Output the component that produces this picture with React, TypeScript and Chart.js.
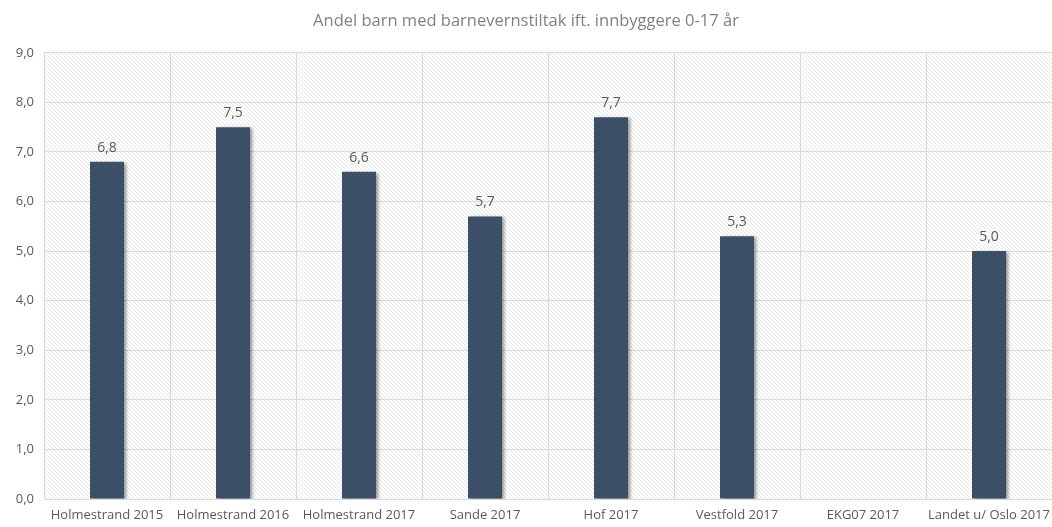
import React, { useEffect, useRef } from "react";
import { Chart, registerables } from "chart.js";

Chart.register(...registerables);

const categories = [
  "Holmestrand 2015",
  "Holmestrand 2016",
  "Holmestrand 2017",
  "Sande 2017",
  "Hof 2017",
  "Vestfold 2017",
  "EKG07 2017",
  "Landet u/ Oslo 2017",
];
const values: (number | null)[] = [6.8, 7.5, 6.6, 5.7, 7.7, 5.3, null, 5.0];
const titleText = "Andel barn med barnevernstiltak ift. innbyggere 0-17 år";

const fmt = (v: number) => v.toFixed(1).replace(".", ",");

function makePattern(): CanvasPattern | string {
  const c = document.createElement("canvas");
  c.width = 4;
  c.height = 4;
  const g = c.getContext("2d");
  if (!g) return "#fff";
  g.fillStyle = "#ffffff";
  g.fillRect(0, 0, 4, 4);
  g.strokeStyle = "rgba(0,0,0,0.10)";
  g.lineWidth = 1;
  g.beginPath();
  g.moveTo(-1, -1);
  g.lineTo(5, 5);
  g.moveTo(-1, 3);
  g.lineTo(1, 5);
  g.moveTo(3, -1);
  g.lineTo(5, 1);
  g.stroke();
  return g.createPattern(c, "repeat") || "#fff";
}

const bgPlugin = {
  id: "hatchBg",
  beforeDraw(chart: any) {
    const { ctx, chartArea } = chart;
    ctx.save();
    ctx.fillStyle = makePattern();
    ctx.fillRect(chartArea.left, chartArea.top, chartArea.right - chartArea.left, chartArea.bottom - chartArea.top);
    ctx.restore();
  },
};

const shadowPlugin = {
  id: "barShadow",
  beforeDatasetsDraw(chart: any) {
    const ctx = chart.ctx;
    ctx.save();
    ctx.shadowColor = "rgba(0,0,0,0.35)";
    ctx.shadowBlur = 3;
    ctx.shadowOffsetX = 3;
    ctx.shadowOffsetY = 1;
  },
  afterDatasetsDraw(chart: any) {
    const ctx = chart.ctx;
    ctx.restore();
    const meta = chart.getDatasetMeta(0);
    ctx.save();
    ctx.font = "14px 'Open Sans', sans-serif";
    ctx.fillStyle = "#595959";
    ctx.textAlign = "center";
    ctx.textBaseline = "bottom";
    meta.data.forEach((el: any, i: number) => {
      const v = values[i];
      if (v === null || v === undefined) return;
      ctx.fillText(fmt(v), el.x, el.y - 7);
    });
    ctx.restore();
  },
};

export default function App() {
  const ref = useRef<HTMLCanvasElement>(null);
  useEffect(() => {
    if (!ref.current) return;
    const chart = new Chart(ref.current, {
      type: "bar",
      data: {
        labels: categories,
        datasets: [
          {
            data: values,
            backgroundColor: "#3b5066",
            barPercentage: 0.27,
            categoryPercentage: 1,
          },
        ],
      },
      options: {
        animation: false,
        responsive: false,
        maintainAspectRatio: false,
        layout: { padding: { left: 0, right: 0, top: 0, bottom: 0 } },
        plugins: {
          legend: { display: false },
          tooltip: { enabled: false },
          title: {
            display: true,
            text: titleText,
            color: "#808080",
            font: { family: "'Open Sans', sans-serif", size: 16.5, weight: "normal" },
            padding: { top: 11, bottom: 22 },
          },
        },
        scales: {
          x: {
            grid: { color: "#d9d9d9", offset: true, drawTicks: false },
            border: { color: "#d9d9d9" },
            ticks: {
              color: "#595959",
              font: { family: "'Open Sans', sans-serif", size: 13 },
              padding: 8,
              maxRotation: 0,
              autoSkip: false,
            },
            afterFit(scale: any) {
              scale.height = 28;
              scale.paddingLeft = 0;
              scale.paddingRight = 0;
            },
          },
          y: {
            min: 0,
            max: 9,
            grid: { color: "#d9d9d9", drawTicks: false },
            border: { display: false },
            ticks: {
              stepSize: 1,
              color: "#595959",
              font: { family: "'Open Sans', sans-serif", size: 13 },
              padding: 10,
              callback: (v: any) => fmt(Number(v)),
            },
            afterFit(scale: any) {
              scale.width = 44;
              scale.paddingTop = 0;
              scale.paddingBottom = 0;
            },
          },
        },
      },
      plugins: [bgPlugin, shadowPlugin],
    });
    return () => chart.destroy();
  }, []);
  return (
    <div style={{ position: "absolute", left: 0, top: 0, width: 1052, height: 527 }}>
      <canvas ref={ref} width={1052} height={527} />
    </div>
  );
}
